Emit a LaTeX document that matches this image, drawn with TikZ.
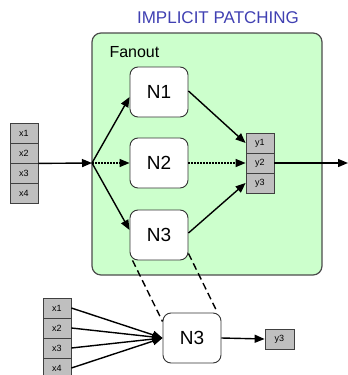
\documentclass[tikz,border=0pt]{standalone}
\usepackage{fontspec}
\setmainfont{Liberation Sans}
\usetikzlibrary{positioning,arrows.meta}

\begin{document}
\begin{tikzpicture}[x=1pt,y=-1pt,
  link/.style={line width=1.4pt,-{Triangle[length=10pt,width=8pt]}},
  proc/.style={draw=black!80,fill=white,line width=0.9pt,rounded corners=8pt,minimum width=58pt,minimum height=50pt,font=\fontsize{19}{19}\selectfont},
  cell/.style={draw=black!75,fill=black!25,line width=0.8pt,minimum width=28pt,minimum height=20pt,inner sep=0pt,font=\fontsize{9}{9}\selectfont}]
\useasboundingbox (0,0) rectangle (348,375);
\node [draw=black!70,line width=1.2pt,fill=green!20,rounded corners=9pt,minimum width=230pt,minimum height=242pt] (fanbox) at (207,154) {};
\node [text=blue!60!black!75,font=\fontsize{17}{17}\selectfont] (title) at (218,18) {IMPLICIT PATCHING};
\node [anchor=west,font=\fontsize{16}{16}\selectfont] (fanlabel) at (106,52) {Fanout};
\node [proc] (n1) at (159,92) {N1};
\node [proc] (n2) at (159,163) {N2};
\node [proc] (n3) at (159,235) {N3};
\node [proc] (m3) at (192,338) {N3};
\foreach \i in {1,...,4} {
  \node [cell] (x\i) at (24,113+20*\i) {x\i};
  \node [cell] (bx\i) at (57,288+20*\i) {x\i};
}
\foreach \i in {1,...,3}
  \node [cell] (y\i) at (260,123+20*\i) {y\i};
\node [cell,minimum width=29pt] (ym) at (279.5,339) {y3};
\coordinate (fan) at (92,163);
\coordinate (out) at (348,163);
\draw [link] (x2.south east) -- (fan);
\draw [link] (fan) -- ([yshift=-5pt]n1.west);
\draw [link,dash pattern=on 2pt off 1pt] (fan) -- (n2.west);
\draw [link] (fan) -- ([yshift=5pt]n3.west);
\draw [link] ([yshift=1pt]n1.east) -- (y1.west);
\draw [link,dash pattern=on 2pt off 1pt] (n2.east) -- (y2.west);
\draw [link] ([yshift=2pt]n3.east) -- (y3.west);
\draw [link] (y2.east) -- (out);
\foreach \i in {1,...,4}
  \draw [link] (bx\i.east) -- (m3.west);
\draw [link] (m3.east) -- (ym.west);
\draw [line width=1.4pt,dash pattern=on 7pt off 4pt] ([xshift=3pt]n3.south west) -- ([yshift=-9pt]m3.north west);
\draw [line width=1.4pt,dash pattern=on 7pt off 4pt] ([yshift=7pt]n3.south east) -- ([xshift=-4pt]m3.north east);
\end{tikzpicture}
\end{document}
